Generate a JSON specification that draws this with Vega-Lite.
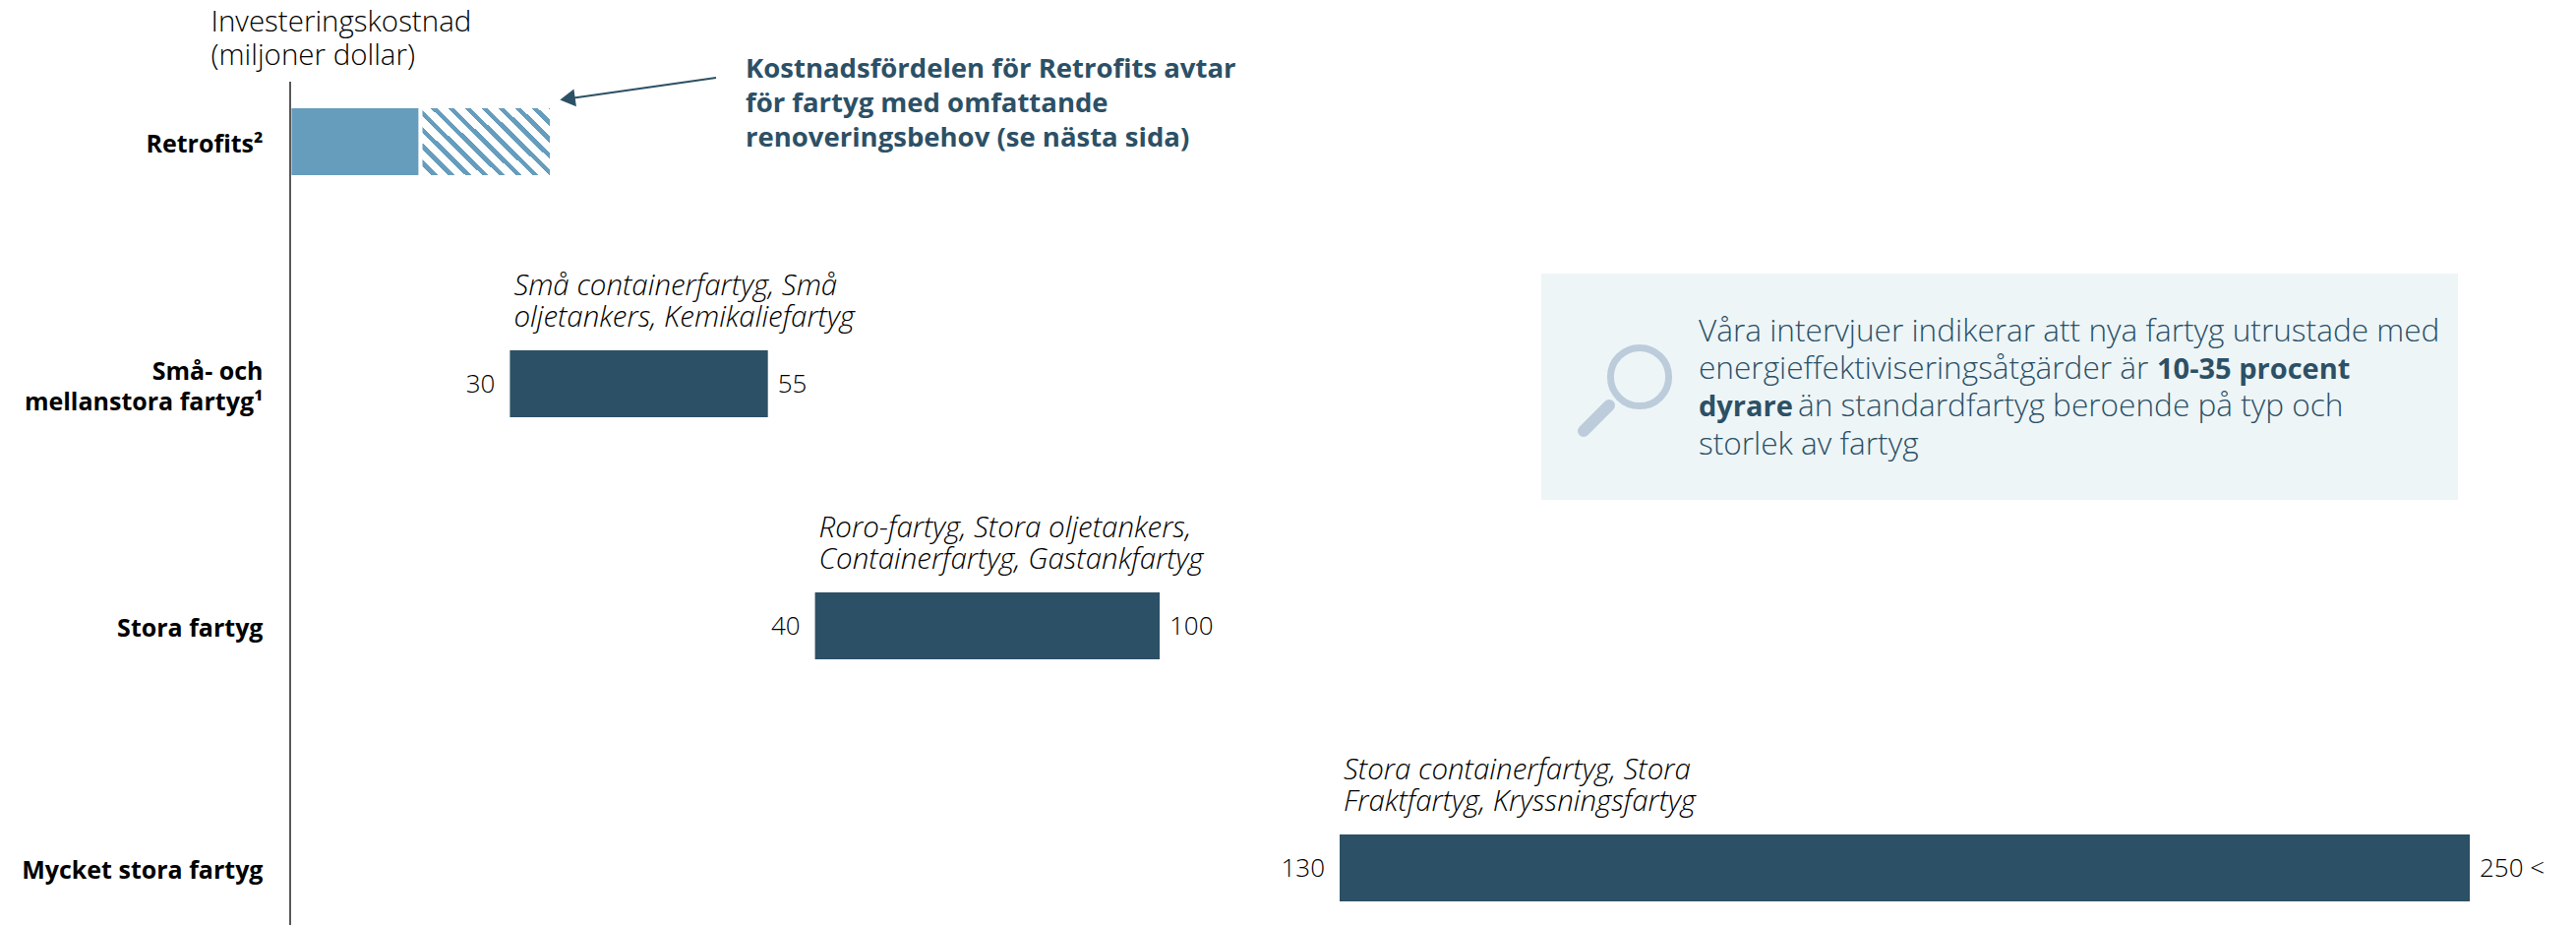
{
  "$schema": "https://vega.github.io/schema/vega-lite/v6.json",
  "width": 2324,
  "height": 857,
  "padding": {"left": 295, "top": 83, "right": 0, "bottom": 0},
  "autosize": "none",
  "background": "white",
  "view": {"stroke": null},
  "config": {"text": {"font": "Open Sans"}, "axis": {"labelFont": "Open Sans", "titleFont": "Open Sans"}},
  "datasets": {
    "ranges": [
      {"category": "Retrofits²", "kind": "base", "low": 0, "high": 15},
      {"category": "Retrofits²", "kind": "extended", "low": 15.5, "high": 29.5},
      {"category": "Små- och\nmellanstora fartyg¹", "kind": "range", "low": 30, "high": 55, "lowLabel": "30", "highLabel": "55", "types": "Små containerfartyg, Små\noljetankers, Kemikaliefartyg"},
      {"category": "Stora fartyg", "kind": "range", "low": 40, "high": 100, "lowLabel": "40", "highLabel": "100", "types": "Roro-fartyg, Stora oljetankers,\nContainerfartyg, Gastankfartyg"},
      {"category": "Mycket stora fartyg", "kind": "range", "low": 130, "high": 250, "lowLabel": "130", "highLabel": "250 <", "types": "Stora containerfartyg, Stora\nFraktfartyg, Kryssningsfartyg"}
    ]
  },
  "layer": [
    {
      "data": {"name": "ranges"},
      "encoding": {
        "y": {
          "field": "category",
          "type": "nominal",
          "sort": null,
          "scale": {"domain": ["Retrofits²", "Små- och\nmellanstora fartyg¹", "Stora fartyg", "Mycket stora fartyg"], "range": [27, 833], "paddingInner": 0.7233, "paddingOuter": 0},
          "axis": {
            "title": ["Investeringskostnad", "(miljoner dollar)"],
            "titleAngle": 0,
            "titleAlign": "left",
            "titleBaseline": "alphabetic",
            "titleX": -81,
            "titleY": -52,
            "titleFontSize": 29.5,
            "titleFontWeight": 300,
            "titleLineHeight": 34,
            "titleColor": "#000000",
            "ticks": false,
            "grid": false,
            "domain": false,
            "labelPadding": 28,
            "labelFontSize": 25,
            "labelFontWeight": 700,
            "labelColor": "#000000",
            "labelLineHeight": 31,
            "labelLimit": 400,
            "labelExpr": "split(datum.value, '\\n')",
            "labelOffset": {"expr": "indexof(datum.value, '\\n') >= 0 ? -12 : 3"}
          }
        },
        "x": {
          "field": "low",
          "type": "quantitative",
          "axis": null,
          "scale": {
            "domain": [0, 15, 15.5, 29.5, 30, 40, 55, 100, 130, 250],
            "range": [1.4, 130.4, 134.5, 264, 223.4, 533.6, 485.7, 884, 1067, 2216],
            "zero": false,
            "nice": false
          }
        }
      },
      "layer": [
        {
          "transform": [{"filter": "datum.kind === 'range'"}],
          "mark": {"type": "bar", "color": "#2C5066"},
          "encoding": {"x2": {"field": "high"}}
        },
        {
          "transform": [{"filter": "datum.kind === 'base'"}],
          "mark": {"type": "bar", "color": "#669DBD"},
          "encoding": {"x2": {"field": "high"}}
        },
        {
          "transform": [{"filter": "datum.kind === 'extended'"}],
          "mark": {
            "type": "bar",
            "color": {
              "gradient": "linear",
              "x1": 0, "y1": 1, "x2": 1.1935, "y2": 0.3616,
              "stops": [
                {"offset": 0.0475, "color": "#ffffff"}, {"offset": 0.0475, "color": "#669DBD"}, {"offset": 0.0808, "color": "#669DBD"}, {"offset": 0.0808, "color": "#ffffff"},
                {"offset": 0.1333, "color": "#ffffff"}, {"offset": 0.1333, "color": "#669DBD"}, {"offset": 0.1667, "color": "#669DBD"}, {"offset": 0.1667, "color": "#ffffff"},
                {"offset": 0.2192, "color": "#ffffff"}, {"offset": 0.2192, "color": "#669DBD"}, {"offset": 0.2525, "color": "#669DBD"}, {"offset": 0.2525, "color": "#ffffff"},
                {"offset": 0.3051, "color": "#ffffff"}, {"offset": 0.3051, "color": "#669DBD"}, {"offset": 0.3384, "color": "#669DBD"}, {"offset": 0.3384, "color": "#ffffff"},
                {"offset": 0.3909, "color": "#ffffff"}, {"offset": 0.3909, "color": "#669DBD"}, {"offset": 0.4242, "color": "#669DBD"}, {"offset": 0.4242, "color": "#ffffff"},
                {"offset": 0.4768, "color": "#ffffff"}, {"offset": 0.4768, "color": "#669DBD"}, {"offset": 0.5101, "color": "#669DBD"}, {"offset": 0.5101, "color": "#ffffff"},
                {"offset": 0.5626, "color": "#ffffff"}, {"offset": 0.5626, "color": "#669DBD"}, {"offset": 0.596, "color": "#669DBD"}, {"offset": 0.596, "color": "#ffffff"},
                {"offset": 0.6485, "color": "#ffffff"}, {"offset": 0.6485, "color": "#669DBD"}, {"offset": 0.6818, "color": "#669DBD"}, {"offset": 0.6818, "color": "#ffffff"},
                {"offset": 0.7343, "color": "#ffffff"}, {"offset": 0.7343, "color": "#669DBD"}, {"offset": 0.7677, "color": "#669DBD"}, {"offset": 0.7677, "color": "#ffffff"},
                {"offset": 0.8202, "color": "#ffffff"}, {"offset": 0.8202, "color": "#669DBD"}, {"offset": 0.8535, "color": "#669DBD"}, {"offset": 0.8535, "color": "#ffffff"},
                {"offset": 0.9061, "color": "#ffffff"}, {"offset": 0.9061, "color": "#669DBD"}, {"offset": 0.9394, "color": "#669DBD"}, {"offset": 0.9394, "color": "#ffffff"},
                {"offset": 0.9919, "color": "#ffffff"}, {"offset": 0.9919, "color": "#669DBD"}, {"offset": 1, "color": "#669DBD"}
              ]
            }
          },
          "encoding": {"x2": {"field": "high"}}
        },
        {
          "transform": [{"filter": "datum.kind === 'range'"}],
          "mark": {"type": "text", "align": "right", "baseline": "middle", "dx": -15, "dy": 1, "fontSize": 26, "fontWeight": 300, "color": "#000000"},
          "encoding": {"text": {"field": "lowLabel"}}
        },
        {
          "transform": [{"filter": "datum.kind === 'range'"}],
          "mark": {"type": "text", "align": "left", "baseline": "middle", "dx": 10, "dy": 1, "fontSize": 26, "fontWeight": 300, "color": "#000000"},
          "encoding": {"x": {"field": "high", "type": "quantitative"}, "text": {"field": "highLabel"}}
        },
        {
          "transform": [{"filter": "datum.kind === 'range'"}],
          "mark": {"type": "text", "align": "left", "baseline": "alphabetic", "dx": 4, "dy": -90, "fontSize": 29.5, "fontWeight": 300, "fontStyle": "italic", "lineHeight": 32, "lineBreak": "\n", "color": "#000000"},
          "encoding": {"text": {"field": "types"}}
        }
      ]
    },
    {
      "encoding": {
        "x": {"field": "across", "type": "quantitative", "axis": null, "scale": {"domain": [295, 2619], "range": [0, 2324], "zero": false, "nice": false}},
        "y": {"field": "down", "type": "quantitative", "axis": null, "scale": {"domain": [83, 940], "range": [0, 857], "zero": false, "nice": false}}
      },
      "layer": [
        {
          "data": {"values": [{"across": 295, "down": 83, "down2": 940}]},
          "mark": {"type": "rule", "stroke": "#222222", "strokeWidth": 1.5},
          "encoding": {"y2": {"field": "down2"}}
        },
        {
          "data": {"values": [{"across": 1567, "across2": 2499, "down": 278, "down2": 508}]},
          "mark": {"type": "rect", "color": "#EDF5F7"},
          "encoding": {"x2": {"field": "across2"}, "y2": {"field": "down2"}}
        },
        {
          "data": {"values": [{"across": 1667, "down": 383}]},
          "mark": {"type": "point", "shape": "circle", "size": 3500, "filled": false, "stroke": "#BCCCDB", "strokeWidth": 7, "opacity": 1},
          "encoding": {}
        },
        {
          "data": {"values": [{"across": 1636, "across2": 1610, "down": 412, "down2": 438}]},
          "mark": {"type": "rule", "stroke": "#BCCCDB", "strokeWidth": 12, "strokeCap": "round"},
          "encoding": {"x2": {"field": "across2"}, "y2": {"field": "down2"}}
        },
        {
          "data": {"values": [{"across": 728, "across2": 580, "down": 79, "down2": 100}]},
          "mark": {"type": "rule", "stroke": "#2C5066", "strokeWidth": 2},
          "encoding": {"x2": {"field": "across2"}, "y2": {"field": "down2"}}
        },
        {
          "data": {"values": [{"across": 577, "down": 100.5}]},
          "mark": {"type": "point", "shape": "triangle-left", "size": 320, "filled": true, "color": "#2C5066", "angle": 352, "opacity": 1},
          "encoding": {}
        },
        {
          "data": {"values": [
            {"across": 758, "down": 79, "line": "Kostnadsfördelen för Retrofits avtar"},
            {"across": 758, "down": 114, "line": "för fartyg med omfattande"},
            {"across": 758, "down": 149, "line": "renoveringsbehov (se nästa sida)"}
          ]},
          "mark": {"type": "text", "align": "left", "baseline": "alphabetic", "fontSize": 27.5, "fontWeight": 700, "color": "#2C5066"},
          "encoding": {"text": {"field": "line"}}
        },
        {
          "data": {"values": [
            {"across": 1727, "down": 347, "line": "Våra intervjuer indikerar att nya fartyg utrustade med"},
            {"across": 1727, "down": 385, "line": "energieffektiviseringsåtgärder är"},
            {"across": 1828, "down": 423, "line": "än standardfartyg beroende på typ och"},
            {"across": 1727, "down": 462, "line": "storlek av fartyg"}
          ]},
          "mark": {"type": "text", "align": "left", "baseline": "alphabetic", "fontSize": 31.6, "fontWeight": 300, "color": "#2C5066"},
          "encoding": {"text": {"field": "line"}}
        },
        {
          "data": {"values": [
            {"across": 2193, "down": 385, "line": "10-35 procent"},
            {"across": 1727, "down": 423, "line": "dyrare"}
          ]},
          "mark": {"type": "text", "align": "left", "baseline": "alphabetic", "fontSize": 29, "fontWeight": 700, "color": "#2C5066"},
          "encoding": {"text": {"field": "line"}}
        }
      ]
    }
  ],
  "resolve": {"scale": {"x": "independent", "y": "independent"}}
}
